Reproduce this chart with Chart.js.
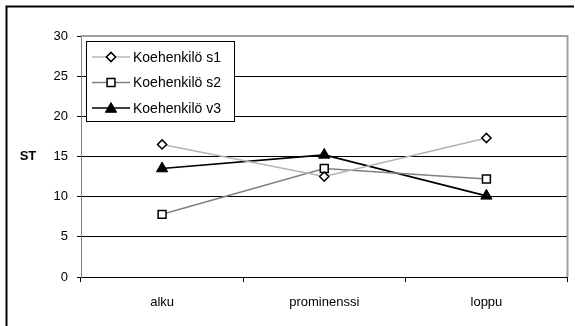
<!DOCTYPE html>
<html>
<head>
<meta charset="utf-8">
<script src="https://cdn.jsdelivr.net/npm/chart.js@4/dist/chart.umd.min.js"></script>
<style>
  html, body { margin: 0; padding: 0; background: #fff; overflow: hidden; }
  #wrap { width: 575px; height: 326px; position: relative; }
  #c { display: block; }
</style>
</head>
<body>
<div id="wrap"><canvas id="c" width="575" height="326"></canvas></div>
<script>
// Category labels on the x axis
const categories = ['alku', 'prominenssi', 'loppu'];
// ST values per test subject
const s1Values = [16.5, 12.5, 17.3];
const s2Values = [7.8, 13.5, 12.2];
const v3Values = [13.5, 15.2, 10.1];
// Series names
const seriesNames = ['Koehenkilö s1', 'Koehenkilö s2', 'Koehenkilö v3'];
// Y axis range and step
const yMin = 0, yMax = 30, yStep = 5;
const yTitle = 'ST';

const FONT = 'Liberation Sans, Arial, sans-serif';

const datasets = [
  {
    label: seriesNames[0], data: s1Values,
    borderColor: '#b4b4b4', borderWidth: 1.5,
    pointStyle: 'rectRot', pointRadius: 4.6, pointBorderWidth: 1.5,
    pointBackgroundColor: '#fff', pointBorderColor: '#000'
  },
  {
    label: seriesNames[1], data: s2Values,
    borderColor: '#808080', borderWidth: 1.5,
    pointStyle: 'rect', pointRadius: 5.6, pointBorderWidth: 1.5,
    pointBackgroundColor: '#fff', pointBorderColor: '#000'
  },
  {
    label: seriesNames[2], data: v3Values,
    borderColor: '#000', borderWidth: 1.6,
    pointStyle: 'triangle', pointRadius: 6.5, pointBorderWidth: 1,
    pointBackgroundColor: '#000', pointBorderColor: '#000'
  }
];

function drawMarker(ctx, style, x, y, r, fill, stroke, lw) {
  ctx.save();
  ctx.beginPath();
  if (style === 'rectRot') {
    ctx.moveTo(x, y - r); ctx.lineTo(x + r, y); ctx.lineTo(x, y + r); ctx.lineTo(x - r, y);
  } else if (style === 'rect') {
    const s = r / Math.SQRT2;
    ctx.rect(x - s, y - s, 2 * s, 2 * s);
  } else {
    for (let i = 0; i < 3; i++) {
      const a = i * 2 * Math.PI / 3;
      const px = x + Math.sin(a) * r, py = y - Math.cos(a) * r;
      if (i === 0) ctx.moveTo(px, py); else ctx.lineTo(px, py);
    }
  }
  ctx.closePath();
  ctx.fillStyle = fill; ctx.fill();
  ctx.lineWidth = lw; ctx.strokeStyle = stroke; ctx.stroke();
  ctx.restore();
}

const decorations = {
  id: 'decorations',
  afterDraw(chart) {
    const ctx = chart.ctx;
    const area = chart.chartArea;
    ctx.save();
    // plot area border (top and right)
    ctx.strokeStyle = '#a0a0a0';
    ctx.lineWidth = 2;
    ctx.beginPath();
    ctx.moveTo(area.left, area.top);
    ctx.lineTo(area.right, area.top);
    ctx.lineTo(area.right, area.bottom);
    ctx.stroke();

    // outer frame (bottom edge runs below the canvas)
    ctx.strokeStyle = '#000';
    ctx.lineWidth = 2;
    ctx.beginPath();
    ctx.moveTo(6.5, 340);
    ctx.lineTo(6.5, 6.5);
    ctx.lineTo(574, 6.5);
    ctx.stroke();

    // y axis title
    ctx.fillStyle = '#000';
    ctx.font = 'bold 13px ' + FONT;
    ctx.textAlign = 'center';
    ctx.textBaseline = 'middle';
    ctx.fillText(yTitle, 28, 156);

    // legend box
    const bx = 86.5, by = 41.5, bw = 148, bh = 80;
    ctx.fillStyle = '#fff';
    ctx.fillRect(bx, by, bw, bh);
    ctx.lineWidth = 1;
    ctx.strokeStyle = '#000';
    ctx.strokeRect(bx, by, bw, bh);
    const rowY = [57, 82.5, 108];
    chart.data.datasets.forEach((ds, i) => {
      const y = rowY[i];
      ctx.strokeStyle = ds.borderColor;
      ctx.lineWidth = ds.borderWidth;
      ctx.beginPath();
      ctx.moveTo(92, y); ctx.lineTo(130, y);
      ctx.stroke();
      drawMarker(ctx, ds.pointStyle, 111, y + (ds.pointStyle === 'triangle' ? 1 : 0), ds.pointRadius,
        ds.pointBackgroundColor, ds.pointBorderColor, ds.pointBorderWidth);
      ctx.fillStyle = '#000';
      ctx.font = '14px ' + FONT;
      ctx.textAlign = 'left';
      ctx.textBaseline = 'middle';
      ctx.fillText(ds.label, 133, y + 1);
    });
    ctx.restore();
  }
};

new Chart(document.getElementById('c'), {
  type: 'line',
  data: { labels: categories, datasets },
  options: {
    responsive: false,
    animation: false,
    devicePixelRatio: 1,
    layout: { padding: { left: 0, top: 36, right: 2, bottom: 0 } },
    plugins: { legend: { display: false }, tooltip: { enabled: false } },
    elements: { line: { tension: 0 } },
    scales: {
      x: {
        offset: true,
        grid: { offset: true, drawOnChartArea: false, tickLength: 5, tickColor: '#000', color: '#000' },
        border: { color: '#000', width: 1 },
        ticks: { color: '#000', font: { family: FONT, size: 13 }, padding: 13, maxRotation: 0 },
        afterFit(s) { s.height = 49; }
      },
      y: {
        min: yMin, max: yMax,
        grid: {
          color: c => (c.tick && c.tick.value === yMax) ? '#a0a0a0' : '#000',
          lineWidth: 1, tickLength: 4, tickColor: '#000'
        },
        border: { color: '#808080', width: 1 },
        ticks: { stepSize: yStep, color: '#000', font: { family: FONT, size: 13 }, padding: 9 },
        afterFit(s) { s.width = 81; }
      }
    }
  },
  plugins: [decorations]
});
</script>
</body>
</html>
